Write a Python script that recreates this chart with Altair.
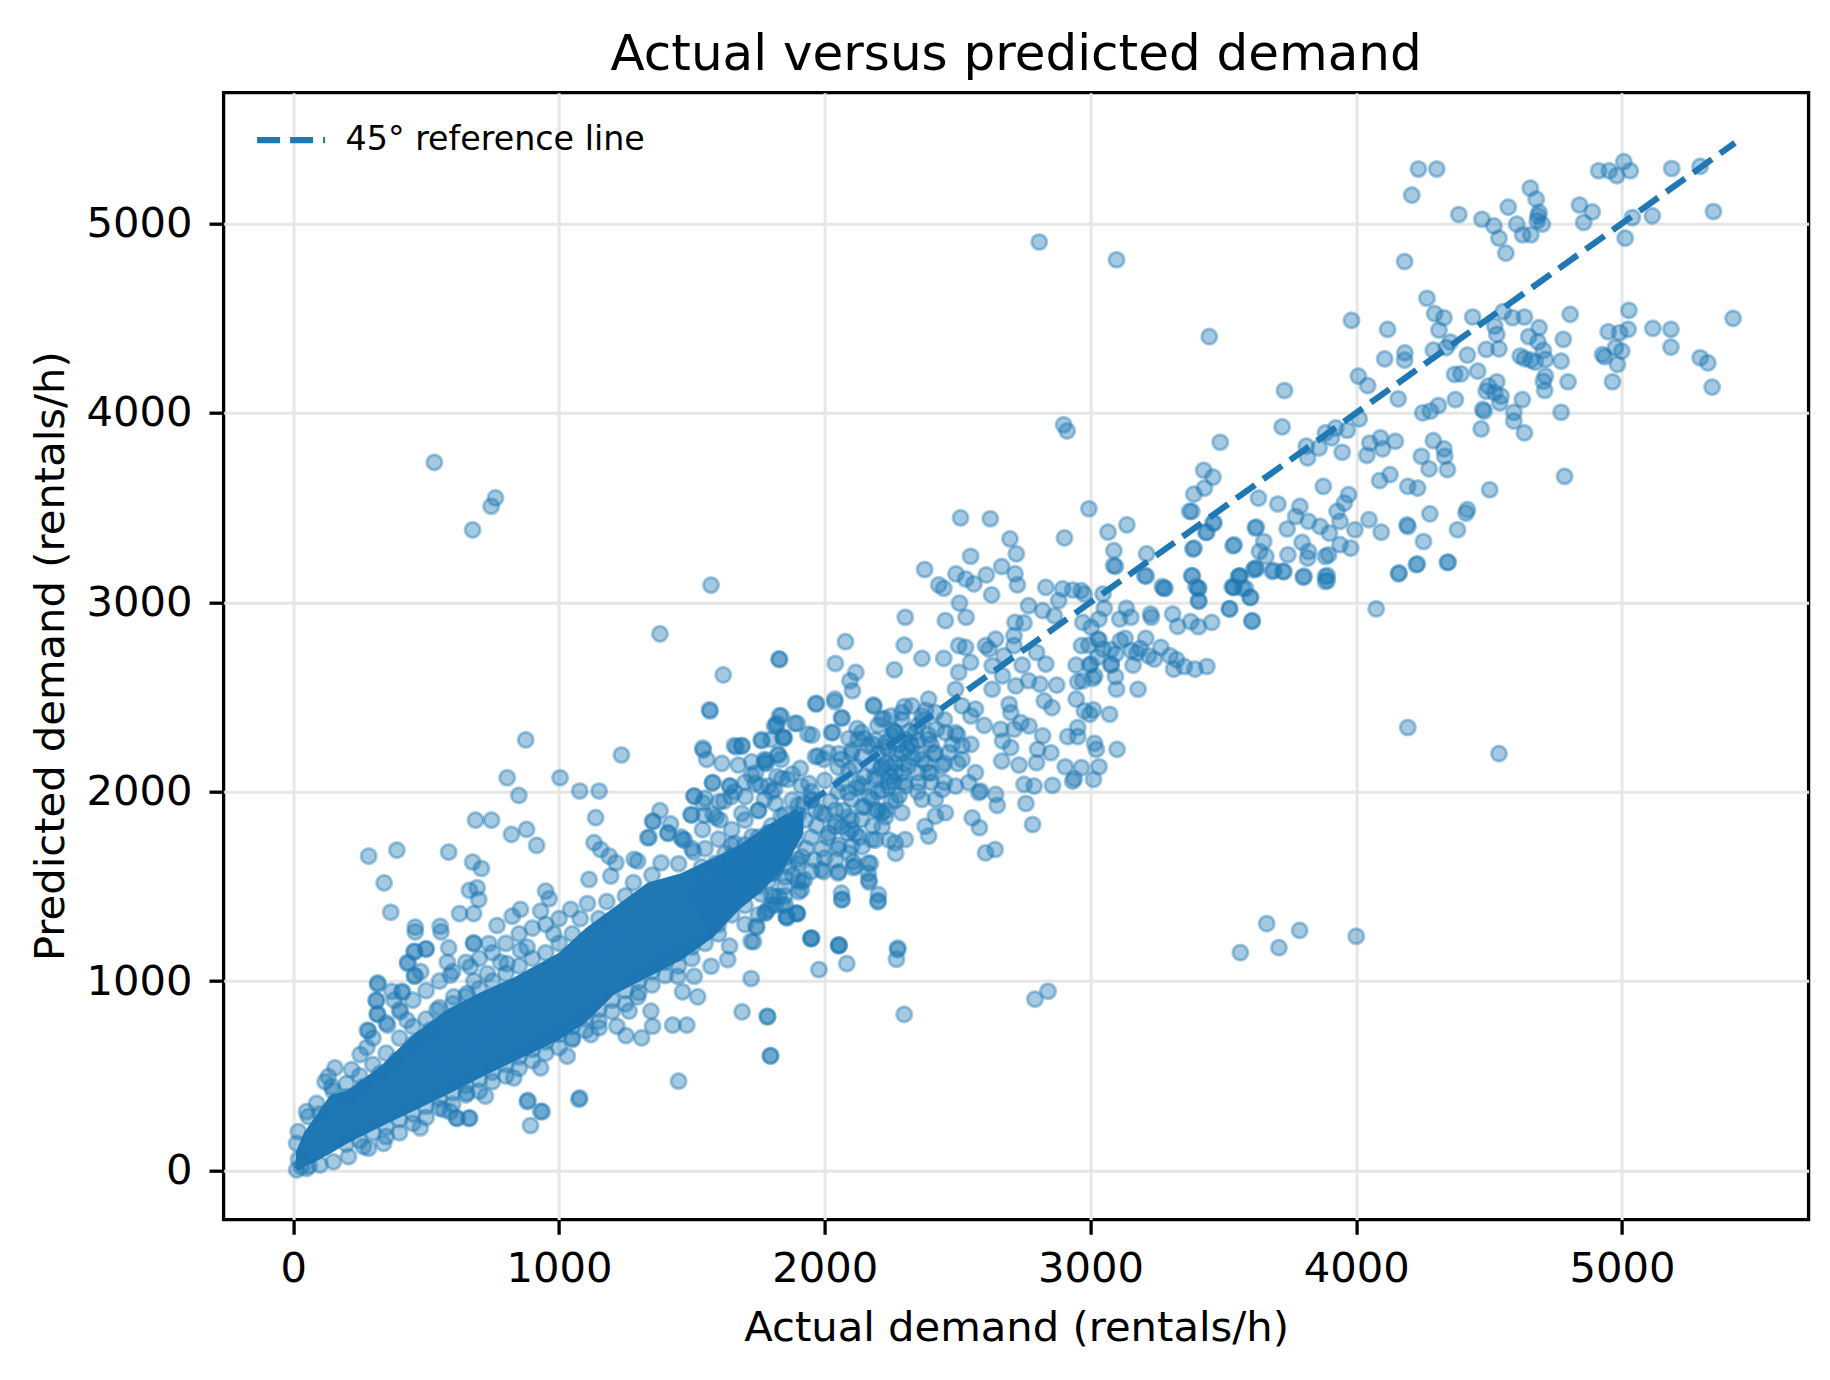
import altair as alt
import pandas as pd

BLUE = '#1f77b4'
FONT = 'DejaVu Sans'
TICKS = [0, 1000, 2000, 3000, 4000, 5000]
LEGEND_LABEL = '45° reference line'

# 45 degree line runs from the smallest to the largest value in the data
REF = [10, 5425]

# (actual, predicted) pairs
HIGH = [
    (4234, 5287), (4303, 5287), (4209, 5149), (4386, 5047), (4473, 5022), (4518, 4987), (4537, 4922),
    (4563, 4843), (4572, 5086), (4604, 4996), (4626, 4940), (4657, 4940), (4655, 5186), (4677, 5128),
    (4684, 5040), (4681, 5014), (4700, 4996), (4688, 5058), (4840, 5097), (4888, 5061), (4856, 5005),
    (4912, 5278), (4952, 5278), (4980, 5252), (5007, 5326), (5031, 5278), (5039, 5031), (5012, 4922),
    (5114, 5040), (5187, 5290), (5294, 5301), (5344, 5063), (4182, 4799), (4266, 4605), (4295, 4524),
    (4330, 4502), (4311, 4437), (4354, 4374), (4338, 4344), (4290, 4331), (4438, 4506), (4553, 4534),
    (4588, 4502), (4633, 4506), (4521, 4458), (4529, 4414), (4688, 4450), (4649, 4402), (4684, 4375),
    (4704, 4330), (4712, 4282), (4673, 4268), (4617, 4300), (4633, 4286), (4657, 4278), (4779, 4388),
    (4805, 4520), (4771, 4273), (4948, 4428), (4991, 4423), (5023, 4441), (5026, 4541), (4975, 4344),
    (4999, 4326), (4927, 4308), (4935, 4296), (4983, 4256), (4964, 4164), (5116, 4446), (5184, 4441),
    (5184, 4347), (5294, 4291), (5323, 4264), (5339, 4136), (5418, 4499), (4797, 4164), (4712, 4194),
    (4704, 4167), (4709, 4118), (4625, 4070), (4593, 4003), (4593, 3956), (4633, 3894), (4771, 4003),
    (4489, 4335), (4537, 4338), (4418, 4305), (4457, 4220), (4394, 4206), (4370, 4203), (4529, 4164),
    (4497, 4141), (4489, 4115), (4521, 4106), (4545, 4088), (4540, 4053), (4476, 4018), (4481, 4009),
    (4470, 3915), (4373, 4070), (4250, 4000), (4279, 4009), (4309, 4039), (4183, 4317), (4182, 4278),
    (4107, 4285), (4118, 4441), (3982, 4488), (4008, 4194), (4043, 4144), (4158, 4074), (4011, 3968),
    (3966, 3908), (3923, 3921), (3907, 3868), (3884, 3894), (3860, 3815), (3812, 3824), (3817, 3762),
    (3947, 3792), (4051, 3841), (4091, 3868), (4099, 3810), (4147, 3850), (4040, 3776), (4290, 3853),
    (4330, 3810), (4333, 3771), (4343, 3700), (4245, 3771), (4274, 3704), (4127, 3674), (4088, 3642),
    (4194, 3612), (4231, 3603), (4502, 3594), (4784, 3665), (3447, 4402), (3730, 4118), (3721, 3926),
    (3488, 3845), (3426, 3697), (3461, 3661), (3429, 3603), (3389, 3571), (3373, 3480), (3461, 3418),
    (3434, 3369), (3385, 3281), (3632, 3550), (3705, 3519), (3620, 3392), (3652, 3321), (3636, 3268),
    (3660, 3242), (3613, 3171), (3620, 3180), (3536, 3298), (3557, 3136), (3533, 3083), (3573, 3074),
    (3788, 3506), (3772, 3453), (3820, 3427), (3740, 3387), (3864, 3401), (3899, 3365), (3796, 3316),
    (3820, 3268), (3817, 3233), (3743, 3251), (3876, 3612), (3971, 3568), (3955, 3524), (3928, 3480),
    (3939, 3427), (3995, 3383), (3939, 3304), (3979, 3286), (3884, 3242), (3896, 3251), (3684, 3163),
    (3724, 3163), (3801, 3132), (3884, 3136), (3884, 3110), (4048, 3436), (4094, 3370), (4191, 3409),
    (4194, 3400), (4277, 3467), (4381, 3383), (4418, 3489), (4413, 3471), (4253, 3321), (4226, 3198),
    (4343, 3210), (4159, 3150), (3270, 3083), (3397, 3083), (2807, 4902), (3098, 4808), (2899, 3937),
    (2912, 3905),
]

MID = [
    (2511, 3446), (2623, 3441), (2697, 3335), (2721, 3256), (2549, 3243), (2902, 3340), (2994, 3494),
    (3066, 3370), (3137, 3409), (3088, 3273), (3087, 3194), (3211, 3256), (3204, 3141), (3276, 3074),
    (3381, 3480), (3390, 3286), (3381, 3141), (3406, 3074), (3406, 3009), (3465, 3420), (3438, 3370),
    (3541, 3303), (3624, 3397), (3561, 3138), (3538, 3079), (3601, 3026), (3522, 2965), (3608, 2903),
    (2376, 3173), (2429, 3092), (2448, 3074), (2494, 3150), (2530, 3123), (2561, 3097), (2608, 3145),
    (2666, 3189), (2716, 3150), (2725, 3092), (2628, 3039), (2507, 2996), (2532, 2921), (2454, 2903),
    (2303, 2921), (2832, 3079), (2895, 3071), (2933, 3065), (2965, 3062), (2880, 3009), (2767, 2982),
    (2820, 2956), (2864, 2929), (3047, 3044), (3135, 2968), (3110, 2912), (3229, 2921), (3309, 2938),
    (3456, 2894), (3406, 2871), (2971, 2894), (3003, 2868), (2994, 2774), (3028, 2806), (3047, 2753),
    (3112, 2797), (3208, 2810), (3265, 2762), (3299, 2718), (3324, 2697), (3154, 2744), (3175, 2732),
    (3078, 2674), (3160, 2668), (3094, 2608), (3179, 2541), (3393, 2647), (3438, 2661), (2946, 2668),
    (2996, 2668), (3009, 2598), (2952, 2580), (2971, 2586), (2946, 2489), (2977, 2427), (3011, 2432),
    (3072, 2409), (2952, 2339), (2914, 2291), (2952, 2291), (3015, 2256), (3100, 2224), (3032, 2132),
    (2905, 2132), (2939, 2069), (2933, 2056), (3011, 2065), (2873, 2563), (2826, 2480), (2855, 2444),
    (2820, 2295), (2851, 2206), (2801, 2224), (2797, 2153), (2731, 2141), (2666, 2162), (2750, 2039),
    (2788, 2030), (2857, 2034), (2757, 1938), (2782, 1827), (2649, 1928), (2643, 1986), (2586, 2004),
    (2555, 1862), (2582, 1810), (2605, 1677), (2641, 1695), (2694, 2462), (2700, 2418), (2662, 2330),
    (2669, 2268), (2712, 2330), (2700, 2233), (2738, 2365), (2769, 2347), (2797, 2735), (2832, 2674),
    (2767, 2586), (2810, 2568), (2743, 2668), (2618, 2753), (2605, 2771), (2643, 2806), (2716, 2894),
    (2750, 2891), (2712, 2824), (2712, 2771), (2674, 2718), (2630, 2665), (2669, 2612), (2719, 2559),
    (2630, 2541), (2567, 2436), (2517, 2453), (2492, 2541), (2504, 2630), (2504, 2771), (2530, 2762),
    (2549, 2683), (2448, 2704), (2366, 2704), (2262, 2644), (2299, 2774), (2078, 2792), (2040, 2677),
    (2117, 2630), (2095, 2586), (2104, 2533), (2038, 2489), (1968, 2467), (1830, 2697), (2063, 2392),
    (2183, 2457), (2265, 2312), (2303, 2277), (2340, 2312), (2240, 2224), (2290, 2206), (2328, 2242),
    (2391, 2277), (2416, 2206), (2366, 2171), (2315, 2136), (2265, 2101), (2215, 2136), (2189, 2083),
    (2240, 2030), (2303, 2030), (2353, 2048), (2391, 2101), (2441, 2136), (2467, 2206), (2492, 2312),
    (2517, 2242), (2454, 2312), (2366, 2400), (2328, 2453), (2391, 2489), (2416, 2418), (2290, 2418),
    (2214, 2383), (2139, 2312), (2164, 2242), (2126, 2277), (2063, 2171), (2013, 2206), (1975, 2189),
    (2114, 2136), (2139, 2030), (2088, 1995), (2177, 1960), (2215, 1889), (2139, 1854), (2088, 1783),
    (2038, 1818), (1987, 1889), (1950, 1960), (1912, 2030), (1861, 2065), (1811, 2012), (1773, 1960),
    (1836, 1871), (1886, 1818), (1786, 1783), (1836, 1695), (1899, 1642), (1987, 1589), (2050, 1571),
    (2114, 1607), (2164, 1624), (2101, 1713), (2177, 1748), (2265, 1730), (2303, 1748), (2391, 1766),
    (2378, 1818), (2416, 1871), (2454, 1889), (2290, 1889), (2366, 1960), (2442, 2012), (2492, 2030),
    (2542, 2048), (2580, 1995), (2567, 2101), (2517, 2171), (2416, 1960), (1836, 2171), (1798, 2277),
    (1811, 2347), (1887, 2361), (1937, 2304), (1848, 2286), (2025, 2312), (1773, 2153), (1760, 2030),
    (2063, 1465), (2202, 1457), (2164, 1569), (2107, 1631), (1950, 1228), (2053, 1192), (2275, 1175),
    (1893, 1359), (1855, 1342), (1786, 1377), (1811, 1448), (1912, 1483), (1924, 1536), (1811, 1571),
    (3094, 3190), (3210, 3138), (3280, 3074), (3383, 3138), (3406, 3074), (3408, 3005), (3562, 3138),
    (3540, 3079), (3583, 3074), (3602, 3026), (3624, 3176), (3690, 3168), (3728, 3162), (3803, 3138),
    (3891, 3141), (3891, 3115), (4161, 3155), (4230, 3203), (4346, 3212), (4075, 2965), (3524, 2965),
    (3608, 2899), (3052, 2968), (3032, 2912), (3152, 2921), (3226, 2938), (3328, 2873), (3377, 2898),
    (2976, 3044), (3032, 2801), (3130, 2810), (2966, 2771), (3077, 2750), (3095, 2727), (3187, 2757),
    (3218, 2718), (3240, 2700), (3026, 2709), (3001, 2674), (3077, 2668), (3016, 2612), (3313, 2647),
    (3353, 2661), (3098, 2541), (2997, 2409), (3022, 2224), (2966, 2127), (4194, 2339), (4537, 2201),
    (1569, 2426), (1836, 2399), (1820, 2361), (1896, 2361), (1952, 2299), (1967, 2463), (2038, 2475),
    (2065, 2387), (2031, 2313), (2185, 2452), (2223, 2387), (2260, 2317), (2122, 2334), (2091, 2281),
    (1845, 2281), (1763, 2269), (1667, 2237), (1688, 2241), (1543, 2220), (1556, 2171), (1613, 2150),
    (1675, 2141), (1725, 2158), (1778, 2164), (1826, 2193), (1877, 2093), (1908, 2123), (1965, 2185),
    (1996, 2171), (2053, 2202), (2103, 2220), (2141, 2185), (2191, 2273), (2229, 2237), (2267, 2150),
    (1577, 2047), (1644, 2030), (1738, 2044), (1788, 2030), (1725, 2088), (1839, 2070), (1940, 2044),
    (1508, 1977), (1550, 1965), (1603, 1947), (1648, 1974), (1701, 1974), (1499, 1877), (1547, 1877),
    (1355, 1842), (1339, 1759), (1411, 1780), (1472, 1745), (1506, 1683), (1606, 1851), (1688, 1886),
    (1751, 1903), (1814, 1938), (1877, 1956), (1952, 1956), (1965, 1903), (1927, 1851), (1864, 1815),
    (1789, 1780), (1726, 1763), (1663, 1727), (1625, 1675), (1688, 1657), (1751, 1692), (1814, 1710),
    (1889, 1745), (1914, 1657), (1864, 1604), (1801, 1569), (1738, 1534), (1675, 1499), (1613, 1463),
    (1562, 1534), (1537, 1604), (1588, 1622), (1638, 1587), (1713, 1604), (1776, 1622), (1839, 1657),
    (1914, 1525), (1902, 1472), (1827, 1446), (1814, 1402), (1776, 1358), (1852, 1402), (1896, 1358),
    (1858, 1337), (1744, 1284), (1732, 1208), (1950, 1226), (2053, 1187), (2065, 1432), (2201, 1425),
    (2166, 1534), (2172, 1622), (2107, 1599), (2053, 1578), (2040, 1639), (1996, 1578), (2053, 1718),
    (2015, 1780), (2065, 1815), (2116, 1780), (2091, 1868), (2040, 1903), (2141, 1921), (2191, 1903),
    (2229, 1868), (2166, 1974), (2216, 2009), (2191, 2062), (2128, 2044), (2065, 2044), (2091, 2114),
    (2242, 1745), (2216, 1815), (2267, 1675), (2191, 1745), (2141, 1710), (2091, 1675), (2267, 1956),
    (2260, 2053), (2242, 2132),
]

LOW = [
    (531, 3739), (761, 3551), (745, 3507), (675, 3382), (1572, 3091), (1380, 2833), (1828, 2701),
    (1618, 2617), (1566, 2432), (875, 2274), (1235, 2194), (1541, 2230), (1660, 2244), (1688, 2244),
    (1761, 2275), (1830, 2402), (1818, 2350), (1843, 2289), (1824, 2198), (1774, 2170),
    (3663, 1304), (3787, 1268), (3564, 1151), (3709, 1177), (4000, 1237), (2840, 947), (2791, 905),
    (2299, 825), (1785, 812), (1796, 605), (1947, 1225), (2053, 1189), (2083, 1093), (1978, 1061),
    (2274, 1167), (2270, 1116), (2064, 1430), (2200, 1419), (2167, 1523), (1897, 1356), (1857, 1335),
    (1777, 1365), (1841, 1400),
    (805, 2074), (1004, 2074), (849, 1981), (1078, 2004), (1151, 2004), (686, 1850), (746, 1850),
    (1138, 1863), (821, 1775), (878, 1801), (916, 1717), (284, 1660), (390, 1692), (585, 1681),
    (675, 1629), (708, 1595), (342, 1519), (663, 1479), (692, 1493), (698, 1431), (367, 1364),
    (626, 1357), (679, 1357), (459, 1285), (553, 1290), (455, 1158), (500, 1171), (585, 1176),
    (431, 1100), (457, 1030), (318, 991), (371, 947), (409, 947), (312, 900), (317, 829), (279, 741),
    (355, 768), (252, 613), (157, 542), (220, 533), (679, 1202), (767, 1294), (824, 1343), (855, 1379),
    (931, 1370), (950, 1475), (963, 1435), (1044, 1379), (1132, 1731), (1157, 1695), (1189, 1660),
    (1214, 1625), (1296, 1634), (1334, 1757), (1352, 1845), (1409, 1783), (1465, 1748), (1497, 1880),
    (1509, 1977), (1541, 1942), (1579, 2048), (1642, 2030), (1591, 1863), (1113, 1537), (1195, 1555),
    (1283, 1643), (1384, 1625), (1107, 1410),
    (931, 542), (1078, 384), (883, 371), (931, 313), (893, 238), (1450, 472), (1796, 607), (1689, 838),
    (1784, 815), (1723, 1014), (1481, 768), (1428, 768), (1311, 701), (1252, 713), (1218, 762),
    (1151, 754), (1120, 718), (1522, 917), (1465, 944), (1346, 842), (1352, 762), (1264, 842),
    (1296, 917), (1050, 692), (1031, 604), (830, 489), (664, 278), (614, 278), (566, 322), (478, 225),
    (723, 393), (654, 410), (1635, 1114), (1642, 1185), (1723, 1211), (1742, 1290), (1572, 1079),
    (1509, 1026), (1447, 1026),
    (318, 984), (411, 940), (314, 896), (317, 824), (283, 738), (459, 1260), (556, 1260), (457, 1155),
    (499, 1169), (431, 1093), (457, 1026), (679, 1199), (736, 1199), (667, 1076), (591, 1032),
    (403, 838), (428, 794), (277, 650), (120, 469), (132, 496), (145, 443), (50, 311), (19, 206),
    (13, 144), (57, 285), (88, 355), (201, 390), (264, 443), (327, 513), (390, 583), (453, 671),
    (516, 742), (541, 847), (604, 917), (654, 935), (730, 1040), (805, 1093), (855, 1163),
    (591, 311), (661, 276), (617, 276), (937, 311), (881, 364), (1075, 376), (340, 144), (283, 118),
    (264, 127), (208, 74), (151, 47), (101, 30), (50, 12), (13, 4), (30, 20), (60, 25), (20, 60),
    (1380, 1900), (1420, 1830), (1460, 1760), (1500, 1700), (1540, 1800), (1580, 1880), (1620, 1950),
    (1660, 2000), (1700, 2050), (1740, 2100), (1780, 2150), (1600, 1750), (1650, 1800), (1700, 1850),
    (1750, 1900), (1800, 2000), (1820, 2080),
]

# points crowding the edges of the solid core
EDGE = [
    (1050, 1250), (1150, 1330), (1250, 1450), (1350, 1560), (1450, 1620), (1550, 1700), (1650, 1720),
    (1700, 1680), (1750, 1650), (1700, 1550), (1750, 1500), (1800, 1600), (1800, 1450), (1700, 1400),
    (1650, 1350), (1600, 1250), (1550, 1200), (1450, 1150), (1350, 1050), (1250, 950), (1150, 850),
    (1050, 760), (950, 680), (850, 600), (750, 520), (650, 450), (550, 380), (450, 300), (350, 230),
    (250, 160), (950, 1150), (850, 1080), (750, 1000), (650, 920), (550, 860), (450, 760), (350, 620),
    (250, 500), (150, 420), (100, 300), (1000, 1200), (900, 1120), (800, 1040), (700, 960),
    (600, 880), (500, 800), (400, 700), (300, 560), (200, 460), (1100, 800), (1000, 720), (900, 640),
    (800, 560), (700, 480), (600, 410), (500, 340), (400, 270), (300, 200), (200, 140), (1200, 900),
    (1300, 1000), (1400, 1100), (1500, 1180), (1600, 1300), (1750, 1560), (1850, 1650), (1850, 1550),
    (300, 700), (350, 780), (400, 850), (450, 900), (500, 950), (550, 1000), (600, 1050), (650, 1100),
    (700, 1120), (750, 1150), (800, 1200), (850, 1250), (900, 1280), (950, 1300), (1000, 1330),
    (380, 900), (480, 1050), (580, 1100), (680, 1000), (780, 1100), (880, 1180), (980, 1250),
    (1080, 1330), (1180, 1420), (1280, 1520), (350, 180), (450, 250), (550, 330), (650, 400),
    (750, 470), (850, 540), (950, 620), (1050, 700), (1150, 790), (1250, 880), (1350, 980),
    (1450, 1080), (400, 200), (500, 280), (600, 350), (700, 420), (800, 500), (900, 580), (1000, 650),
    (1100, 740), (1200, 840), (1300, 940), (1400, 1030), (1500, 1120),
]

# the crowded stretch of the cloud just past the solid core
CROWD = [
    (1560, 1350), (1580, 1420), (1600, 1500), (1620, 1560), (1640, 1620), (1660, 1480), (1680, 1560),
    (1700, 1620), (1720, 1700), (1640, 1420), (1690, 1450), (1710, 1500), (1730, 1580), (1760, 1640),
    (1780, 1700), (1800, 1760), (1760, 1460), (1790, 1530), (1820, 1600), (1840, 1680), (1860, 1740),
    (1880, 1800), (1900, 1880), (1920, 1940), (1850, 1500), (1880, 1560), (1900, 1620), (1930, 1700),
    (1950, 1760), (1970, 1820), (2000, 1880), (2020, 1950), (2050, 2000), (1960, 1640), (1990, 1700),
    (2010, 1760), (2040, 1840), (2070, 1900), (2100, 1960), (2120, 2020), (2150, 2080), (2180, 2140),
    (2200, 2200), (2230, 2260), (2260, 2320), (2290, 2380), (2320, 2260), (2350, 2200), (2380, 2150),
    (2400, 2250), (2420, 2330), (2350, 2350), (2300, 2150), (2250, 2080), (2200, 2000), (2150, 1920),
    (2100, 1850), (2350, 2100), (2280, 1980), (2230, 1900), (2180, 1820), (2130, 1760), (2400, 2050),
    (2450, 2150), (2480, 2250), (2450, 2380), (2380, 2430), (2300, 2450), (2250, 2400), (2200, 2350),
    (2150, 2280), (2100, 2200), (2050, 2130), (2000, 2060), (1950, 2000), (1900, 1930), (1850, 1880),
    (1800, 1820), (1750, 1760), (1700, 1720), (1650, 1660), (1600, 1600), (1550, 1540), (1520, 1450),
    (1540, 1400), (1580, 1300), (1620, 1380), (1700, 1300), (1750, 1350), (1800, 1400), (1850, 1450),
    (1900, 1530), (1950, 1580), (2000, 1650), (2050, 1700), (2100, 1800), (2200, 1900), (2250, 1950),
    (2300, 2050), (2350, 2000), (2400, 2100), (2450, 2050), (2500, 2150), (2500, 2300), (2550, 2250),
    (2550, 2400), (2600, 2350), (2230, 2150), (2270, 2200), (2310, 2230), (2350, 2270), (2390, 2300),
    (2280, 2250), (2320, 2320), (2250, 2300), (2370, 2380), (2410, 2200), (2330, 2180), (2290, 2100),
    (2240, 2050), (2210, 2120), (2180, 2250),
]

# saturated core of the cloud, where the points overlap into a solid band
CORE_X = [10, 40, 75, 140, 200, 327, 453, 579, 704, 830, 1000, 1100, 1208, 1333, 1459, 1580, 1680,
          1760, 1850, 1920]
CORE_LO = [8, 25, 40, 90, 140, 230, 315, 400, 490, 575, 690, 780, 930, 1020, 1110, 1230, 1380,
           1470, 1600, 1780]
CORE_HI = [100, 200, 270, 400, 420, 550, 720, 850, 940, 1020, 1150, 1280, 1390, 1520, 1570, 1650, 1720,
           1800, 1880, 1900]

points = pd.DataFrame(HIGH + MID + LOW + EDGE + CROWD, columns=['actual', 'predicted'])
core = pd.DataFrame({'actual': CORE_X, 'lo': CORE_LO, 'hi': CORE_HI})
ref = pd.DataFrame({'actual': REF, 'predicted': REF, 'label': [LEGEND_LABEL] * len(REF)})

x_scale = alt.Scale(domain=[-262, 5702], nice=False, zero=False)
y_scale = alt.Scale(domain=[-259, 5690], nice=False, zero=False)

x_axis = alt.Axis(values=TICKS, format='d', title='Actual demand (rentals/h)',
                  labelPadding=14, titleY=121, titleBaseline='alphabetic')
y_axis = alt.Axis(values=TICKS, format='d', title='Predicted demand (rentals/h)',
                  labelPadding=17, titleX=-160, titleY=563, titleAngle=270,
                  titleBaseline='alphabetic', titleAlign='center')

band = alt.Chart(core).mark_area(color=BLUE, opacity=1).encode(
    x=alt.X('actual:Q', scale=x_scale, axis=x_axis),
    y=alt.Y('lo:Q', scale=y_scale, axis=y_axis),
    y2='hi:Q'
)

scatter = alt.Chart(points).mark_circle(
    color=BLUE, stroke=BLUE, size=230,
    fillOpacity=0.4, strokeOpacity=0.4, strokeWidth=3, opacity=1
).encode(
    x='actual:Q',
    y='predicted:Q'
)

line = alt.Chart(ref).mark_line(strokeDash=[23, 10], strokeWidth=6.25).encode(
    x='actual:Q',
    y='predicted:Q',
    color=alt.Color('label:N', scale=alt.Scale(domain=[LEGEND_LABEL], range=[BLUE]),
                    legend=alt.Legend(title=None, orient='none', legendX=30, legendY=10,
                                      symbolType='stroke', symbolStrokeWidth=6.25,
                                      symbolDash=[23, 10], symbolSize=4624,
                                      labelFontSize=33.3, labelFont=FONT, labelColor='black',
                                      labelOffset=17, labelLimit=0, padding=0))
)

chart = alt.layer(band, scatter, line).properties(
    width=1585,
    height=1127,
    autosize=alt.AutoSizeParams(type='none'),
    padding={'left': 215.6, 'top': 84.7, 'right': 13, 'bottom': 152},
    title=alt.TitleParams('Actual versus predicted demand', fontSize=50, font=FONT,
                          fontWeight='normal', color='black', anchor='middle', offset=13)
).configure_view(
    stroke='black', strokeWidth=3.3
).configure_axis(
    labelFont=FONT, labelFontSize=41.7, labelColor='black',
    titleFont=FONT, titleFontSize=41.7, titleFontWeight='normal', titleColor='black',
    tickSize=14.6, tickWidth=3.3, tickColor='black', domain=False,
    grid=True, gridColor='#e6e6e6', gridWidth=3
)

chart.save("out.html", embed_options={"renderer": "svg", "actions": False})
